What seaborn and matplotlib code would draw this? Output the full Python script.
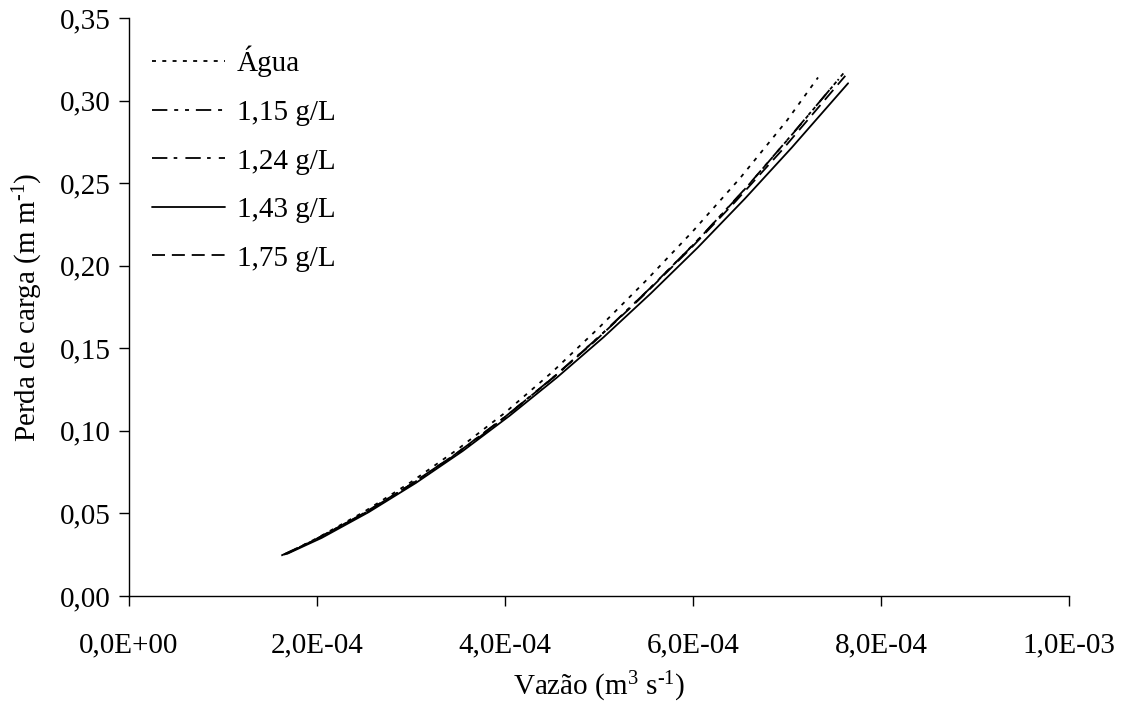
import matplotlib
matplotlib.use("Agg")
import matplotlib.pyplot as plt
import seaborn as sns
import pandas as pd
from matplotlib.ticker import FuncFormatter

sns.set_theme(style="ticks")
plt.rcParams['font.family'] = ['Liberation Serif', 'DejaVu Serif']
plt.rcParams['mathtext.fontset'] = 'custom'
plt.rcParams['mathtext.rm'] = 'Liberation Serif'
plt.rcParams['mathtext.it'] = 'Liberation Serif:italic'
plt.rcParams['mathtext.bf'] = 'Liberation Serif:bold'
plt.rcParams['text.color'] = 'black'
plt.rcParams['axes.labelcolor'] = 'black'

series_names = ["Água", "1,15 g/L", "1,24 g/L", "1,43 g/L", "1,75 g/L"]

q_agua = [1.65e-4, 2.0e-4, 2.5e-4, 3.0e-4, 3.5e-4, 4.0e-4, 4.5e-4, 5.0e-4, 5.5e-4, 6.0e-4, 6.5e-4, 7.0e-4, 7.33e-4]
h_agua = [0.0250, 0.0350, 0.0510, 0.0690, 0.0890, 0.1110, 0.1355, 0.1625, 0.1910, 0.2210, 0.2530, 0.2880, 0.3140]

q_115 = [1.70e-4, 2.1e-4, 2.6e-4, 3.1e-4, 3.6e-4, 4.1e-4, 4.6e-4, 5.1e-4, 5.6e-4, 6.1e-4, 6.6e-4, 7.1e-4, 7.6e-4]
h_115 = [0.0262, 0.0375, 0.0532, 0.0712, 0.0905, 0.1128, 0.1365, 0.1622, 0.1895, 0.2185, 0.2495, 0.2825, 0.3165]

q_124 = [1.65e-4, 2.0e-4, 2.5e-4, 3.0e-4, 3.5e-4, 4.0e-4, 4.5e-4, 5.0e-4, 5.5e-4, 6.0e-4, 6.5e-4, 7.0e-4, 7.55e-4]
h_124 = [0.0252, 0.0348, 0.0500, 0.0676, 0.0870, 0.1085, 0.1318, 0.1570, 0.1840, 0.2125, 0.2430, 0.2760, 0.3130]

q_143 = [1.68e-4, 2.05e-4, 2.55e-4, 3.05e-4, 3.55e-4, 4.05e-4, 4.55e-4, 5.05e-4, 5.55e-4, 6.05e-4, 6.55e-4, 7.05e-4, 7.65e-4]
h_143 = [0.0255, 0.0352, 0.0508, 0.0684, 0.0878, 0.1092, 0.1322, 0.1568, 0.1832, 0.2110, 0.2405, 0.2715, 0.3105]

q_175 = [1.62e-4, 1.95e-4, 2.45e-4, 2.95e-4, 3.45e-4, 3.95e-4, 4.45e-4, 4.95e-4, 5.45e-4, 5.95e-4, 6.45e-4, 6.95e-4, 7.62e-4]
h_175 = [0.0245, 0.0332, 0.0486, 0.0658, 0.0850, 0.1062, 0.1292, 0.1540, 0.1808, 0.2090, 0.2388, 0.2702, 0.3150]

x_ticks = [0.0, 2.0e-4, 4.0e-4, 6.0e-4, 8.0e-4, 1.0e-3]
y_ticks = [0.00, 0.05, 0.10, 0.15, 0.20, 0.25, 0.30, 0.35]

frames = []
for name, q, h in zip(series_names, [q_agua, q_115, q_124, q_143, q_175],
                      [h_agua, h_115, h_124, h_143, h_175]):
    frames.append(pd.DataFrame({"Vazao": q, "Perda": h, "serie": name}))
df = pd.concat(frames, ignore_index=True)

dashes = {
    "Água": (2.2, 3.5),
    "1,15 g/L": (8.5, 3.8, 2.2, 3.8, 2.2, 3.8),
    "1,24 g/L": (8.5, 3.5, 2.0, 4.5),
    "1,43 g/L": "",
    "1,75 g/L": (7.2, 3.8),
}

LW = 1.3
FS = 21

fig = plt.figure(figsize=(11.28, 7.04), dpi=100)
ax = fig.add_axes([0.1144, 0.1534, 0.8333, 0.821])

sns.lineplot(data=df, x="Vazao", y="Perda", style="serie", dashes=dashes,
             style_order=series_names, color="black", linewidth=LW,
             estimator=None, sort=False, ax=ax)

ax.set_xlim(0, 1.0e-3)
ax.set_ylim(0, 0.35)
ax.set_xticks(x_ticks)
ax.set_yticks(y_ticks)

def fmt_x(v, pos):
    if v == 0:
        return "0,0E+00"
    s = f"{v:.1E}"
    mant, exp = s.split("E")
    sign = exp[0]
    e = int(exp[1:])
    return f"{mant.replace('.', ',')}E{sign}{e:02d}"

ax.xaxis.set_major_formatter(FuncFormatter(fmt_x))
ax.yaxis.set_major_formatter(FuncFormatter(lambda v, p: f"{v:.2f}".replace(".", ",")))

ax.tick_params(axis="both", direction="out", length=7, width=1, colors="black",
               labelsize=FS, labelcolor="black")
ax.tick_params(axis="x", pad=19)
ax.tick_params(axis="y", pad=6)
for s in ["top", "right"]:
    ax.spines[s].set_visible(False)
for s in ["left", "bottom"]:
    ax.spines[s].set_color("black")
    ax.spines[s].set_linewidth(1)

ax.set_xlabel("Vazão (m$^{3}$ s$^{\\text{-1}}$)", fontsize=FS, color="black")
ax.set_ylabel("Perda de carga (m m$^{\\text{-1}}$)", fontsize=FS, color="black")
ax.xaxis.set_label_coords(0.5, -0.128)
ax.yaxis.set_label_coords(-0.089, 0.5)

leg = ax.legend(loc="upper left", bbox_to_anchor=(0.012, 0.972), frameon=False,
                fontsize=FS, handlelength=2.5, handletextpad=0.42,
                labelspacing=0.76, borderaxespad=0.0)
for t in leg.get_texts():
    t.set_color("black")
for l in leg.get_lines():
    l.set_linewidth(LW)
    l.set_color("black")

fig.savefig("out.png", dpi=100, facecolor="white")
